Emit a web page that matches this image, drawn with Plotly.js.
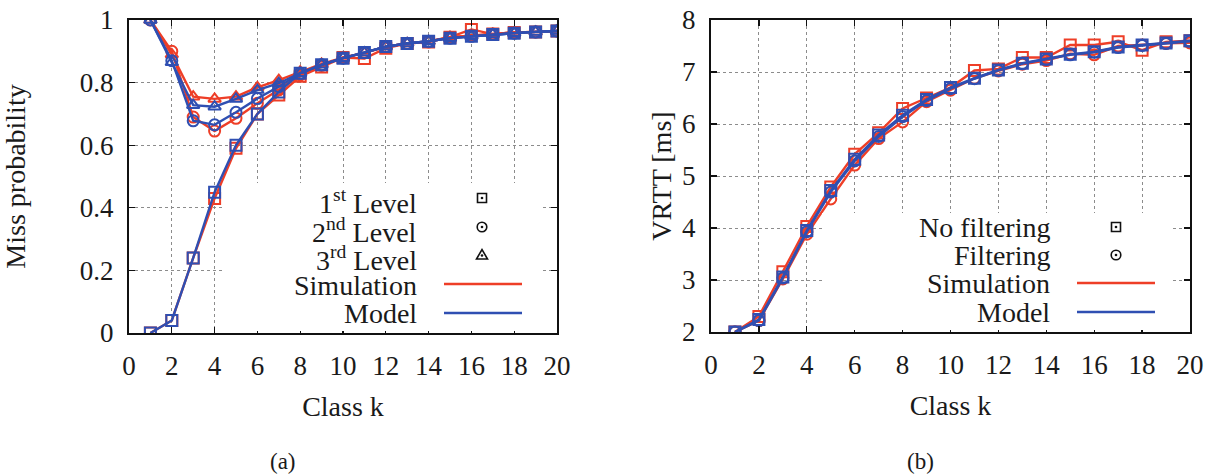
<!DOCTYPE html>
<html>
<head>
<meta charset="utf-8">
<script src="https://cdn.plot.ly/plotly-3.0.1.min.js"></script>
<style>
  html, body { margin: 0; padding: 0; background: #fff; }
  #chart { width: 1211px; height: 476px; }
</style>
</head>
<body>
<div id="chart"></div>
<script>
// Class index shared by both panels
const classK = [1, 2, 3, 4, 5, 6, 7, 8, 9, 10, 11, 12, 13, 14, 15, 16, 17, 18, 19, 20];

// Panel (a): miss probability per cache level
const simLevel1 = [0, 0.04, 0.24, 0.43, 0.59, 0.70, 0.76, 0.82, 0.85, 0.88, 0.877, 0.91, 0.925, 0.93, 0.945, 0.97, 0.955, 0.96, 0.962, 0.965];
const modelLevel1 = [0, 0.04, 0.24, 0.45, 0.60, 0.70, 0.77, 0.83, 0.857, 0.878, 0.896, 0.915, 0.925, 0.932, 0.942, 0.948, 0.954, 0.958, 0.962, 0.965];
const simLevel2 = [1, 0.90, 0.69, 0.645, 0.686, 0.734, 0.777, 0.825, 0.855, 0.88, 0.895, 0.915, 0.925, 0.93, 0.945, 0.95, 0.955, 0.96, 0.962, 0.965];
const modelLevel2 = [1, 0.87, 0.678, 0.665, 0.705, 0.749, 0.787, 0.83, 0.857, 0.878, 0.896, 0.915, 0.925, 0.932, 0.942, 0.948, 0.954, 0.958, 0.962, 0.965];
const simLevel3 = [1, 0.89, 0.755, 0.748, 0.755, 0.785, 0.808, 0.835, 0.86, 0.88, 0.895, 0.915, 0.925, 0.932, 0.945, 0.95, 0.955, 0.96, 0.962, 0.965];
const modelLevel3 = [1, 0.865, 0.728, 0.723, 0.748, 0.776, 0.798, 0.83, 0.857, 0.878, 0.896, 0.915, 0.925, 0.932, 0.942, 0.948, 0.954, 0.958, 0.962, 0.965];

// Panel (b): VRTT in ms
const simNoFilter = [2.0, 2.30, 3.16, 4.03, 4.79, 5.42, 5.83, 6.30, 6.50, 6.70, 7.03, 7.06, 7.28, 7.28, 7.52, 7.52, 7.58, 7.42, 7.58, 7.60];
const simFilter = [2.0, 2.22, 3.02, 3.88, 4.56, 5.21, 5.72, 6.04, 6.43, 6.65, 6.88, 7.02, 7.15, 7.22, 7.35, 7.33, 7.50, 7.52, 7.55, 7.56];
const modelNoFilter = [2.0, 2.24, 3.06, 3.95, 4.72, 5.32, 5.79, 6.17, 6.47, 6.70, 6.88, 7.04, 7.17, 7.25, 7.34, 7.39, 7.48, 7.52, 7.56, 7.60];
const modelFilter = [2.0, 2.22, 3.04, 3.93, 4.69, 5.29, 5.76, 6.14, 6.45, 6.68, 6.87, 7.03, 7.16, 7.24, 7.33, 7.38, 7.47, 7.51, 7.55, 7.59];

// Legend labels
const legendA = ['1<sup>st</sup> Level', '2<sup>nd</sup> Level', '3<sup>rd</sup> Level', 'Simulation', 'Model'];
const legendB = ['No filtering', 'Filtering', 'Simulation', 'Model'];

const RED = '#ee3e27';
const BLUE = '#2f4fb2';
const SERIF = 'Liberation Serif, Times New Roman, serif';
const INK = '#1a1a1a';
const W = 1211, H = 476;
const px = v => v / W;
const py = v => 1 - v / H;

function series(x, y, color, symbol, xa, ya) {
  return {
    x: x, y: y, xaxis: xa, yaxis: ya, type: 'scatter', mode: 'lines+markers',
    line: { color: color, width: 2.4 },
    marker: { symbol: symbol, size: 11, color: color, line: { color: color, width: 2 } },
    showlegend: false, hoverinfo: 'x+y'
  };
}

const traces = [
  series(classK, simLevel1, RED, 'square-open', 'x', 'y'),
  series(classK, simLevel2, RED, 'circle-open', 'x', 'y'),
  series(classK, simLevel3, RED, 'triangle-up-open', 'x', 'y'),
  series(classK, modelLevel1, BLUE, 'square-open', 'x', 'y'),
  series(classK, modelLevel2, BLUE, 'circle-open', 'x', 'y'),
  series(classK, modelLevel3, BLUE, 'triangle-up-open', 'x', 'y'),
  series(classK, simNoFilter, RED, 'square-open', 'x2', 'y2'),
  series(classK, simFilter, RED, 'circle-open', 'x2', 'y2'),
  series(classK, modelNoFilter, BLUE, 'square-open', 'x2', 'y2'),
  series(classK, modelFilter, BLUE, 'circle-open', 'x2', 'y2')
];

const tickFont = { family: SERIF, size: 27, color: INK };
const titleFont = { family: SERIF, size: 28, color: INK };

function axis(domain, range, dtick, anchor, title, standoff) {
  return {
    domain: domain, range: range, dtick: dtick, tick0: range[0], anchor: anchor,
    showline: true, linecolor: '#111', linewidth: 2, mirror: 'ticks',
    ticks: 'inside', ticklen: 6, tickwidth: 1.2, tickcolor: '#111',
    showgrid: true, gridcolor: '#8c8c8c', gridwidth: 1, griddash: 'dot',
    zeroline: false, tickfont: tickFont, ticklabelstandoff: 8,
    title: { text: title, font: titleFont, standoff: standoff },
    automargin: false, fixedrange: true
  };
}

const shapes = [];
// Opaque key boxes over the grid (placed clear of the curves)
function keyBox(x0, x1, y0, y1) {
  shapes.push({ type: 'rect', xref: 'paper', yref: 'paper', x0: px(x0), x1: px(x1), y0: py(y1), y1: py(y0),
    fillcolor: '#ffffff', line: { width: 0 }, layer: 'above' });
}
keyBox(223, 541, 183, 331);
keyBox(822, 1173, 213, 330);

// Legend keys: small black point glyphs and coloured line samples
function keyDot(cx, cy) {
  shapes.push({ type: 'circle', xref: 'paper', yref: 'paper', xsizemode: 'pixel', ysizemode: 'pixel',
    xanchor: px(cx), yanchor: py(cy), x0: -1.3, x1: 1.3, y0: -1.3, y1: 1.3,
    line: { width: 0 }, fillcolor: '#111', layer: 'above' });
}
function keySquare(cx, cy) {
  shapes.push({ type: 'rect', xref: 'paper', yref: 'paper', xsizemode: 'pixel', ysizemode: 'pixel',
    xanchor: px(cx), yanchor: py(cy), x0: -4.5, x1: 4.5, y0: -4.5, y1: 4.5,
    line: { color: '#111', width: 1.6 }, fillcolor: 'rgba(0,0,0,0)', layer: 'above' });
  keyDot(cx, cy);
}
function keyCircle(cx, cy) {
  shapes.push({ type: 'circle', xref: 'paper', yref: 'paper', xsizemode: 'pixel', ysizemode: 'pixel',
    xanchor: px(cx), yanchor: py(cy), x0: -4.8, x1: 4.8, y0: -4.8, y1: 4.8,
    line: { color: '#111', width: 1.6 }, fillcolor: 'rgba(0,0,0,0)', layer: 'above' });
  keyDot(cx, cy);
}
function keyTriangle(cx, cy) {
  shapes.push({ type: 'path', xref: 'paper', yref: 'paper', xsizemode: 'pixel', ysizemode: 'pixel',
    xanchor: px(cx), yanchor: py(cy), path: 'M -5.5,-4 L 5.5,-4 L 0,5.5 Z',
    line: { color: '#111', width: 1.6 }, fillcolor: 'rgba(0,0,0,0)', layer: 'above' });
  keyDot(cx, cy + 0.5);
}
function keyLine(x0, x1, y, color) {
  shapes.push({ type: 'line', xref: 'paper', yref: 'paper', x0: px(x0), x1: px(x1), y0: py(y), y1: py(y),
    line: { color: color, width: 2.4 }, layer: 'above' });
}

keySquare(482, 198); keyCircle(482, 227); keyTriangle(482, 255);
keyLine(444, 522, 284, RED); keyLine(444, 522, 313, BLUE);
keySquare(1116, 227); keyCircle(1116, 255);
keyLine(1077, 1155, 283, RED); keyLine(1077, 1155, 312, BLUE);

const annotations = [];
const legendFont = { family: SERIF, size: 28, color: INK };
const rowsA = [201, 230, 258, 285, 313];
legendA.forEach((t, i) => annotations.push({ text: t, xref: 'paper', yref: 'paper', x: px(419), y: py(rowsA[i]),
  xanchor: 'right', yanchor: 'middle', showarrow: false, font: legendFont }));
const rowsB = [227, 255, 283, 312];
legendB.forEach((t, i) => annotations.push({ text: t, xref: 'paper', yref: 'paper', x: px(1052), y: py(rowsB[i]),
  xanchor: 'right', yanchor: 'middle', showarrow: false, font: legendFont }));
const captionFont = { family: SERIF, size: 23, color: INK };
annotations.push({ text: '(a)', xref: 'paper', yref: 'paper', x: px(283), y: py(461), xanchor: 'center', yanchor: 'middle',
  showarrow: false, font: captionFont });
annotations.push({ text: '(b)', xref: 'paper', yref: 'paper', x: px(920), y: py(461), xanchor: 'center', yanchor: 'middle',
  showarrow: false, font: captionFont });

const layout = {
  width: W, height: H,
  margin: { l: 0, r: 0, t: 0, b: 0, pad: 0 },
  paper_bgcolor: '#fff', plot_bgcolor: '#fff',
  showlegend: false,
  xaxis: axis([129 / W, 557 / W], [0, 20], 2, 'y', 'Class k', 16),
  yaxis: axis([143 / H, 456 / H], [0, 1], 0.2, 'x', 'Miss probability', 52),
  xaxis2: axis([711 / W, 1190 / W], [0, 20], 2, 'y2', 'Class k', 16),
  yaxis2: axis([144 / H, 456 / H], [2, 8], 1, 'x2', 'VRTT [ms]', 2),
  shapes: shapes,
  annotations: annotations
};

Plotly.newPlot('chart', traces, layout, { staticPlot: true, displayModeBar: false });
</script>
</body>
</html>
